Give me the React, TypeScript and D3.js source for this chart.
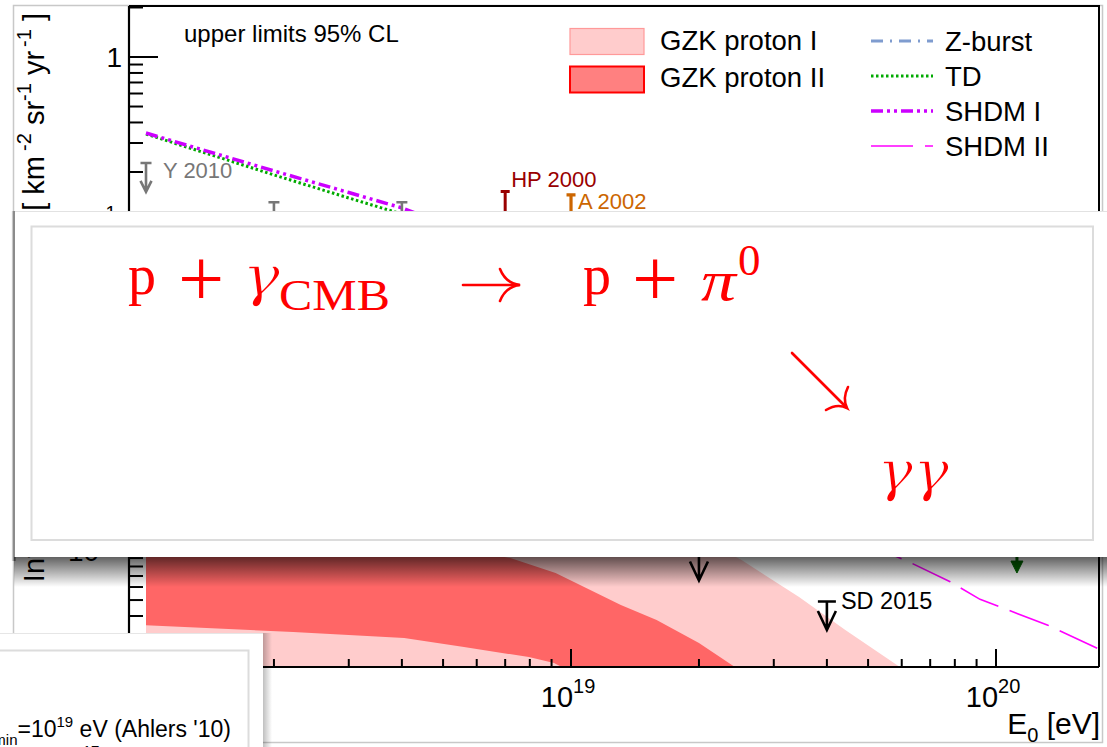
import React from "react";
import * as d3 from "d3";

const W = 1107;
const H = 747;

// axis domains: E0 [eV] and integral flux [km^-2 sr^-1 yr^-1]
const xDomain: [number, number] = [9.12e17, 1.747e20];
const yDomain: [number, number] = [1.959e-4, 2.042];

const xMajorExp = ["18", "19", "20"];
const xMajorTicks = [1e18, 1e19, 1e20];
const yMajorTicks = [1, 0.1, 0.01, 0.001];
const yMajorBase = ["1", "10", "10", "10"];
const yMajorExp = ["", "-1", "-2", "-3"];

// GZK proton I band
const gzkIUpperE = [1e18, 3.16e18, 1e19, 2e19, 2.52e19, 3.44e19, 4.42e19, 5.94e19, 7.94e19];
const gzkIUpperFlux = [6.3e-3, 4.0e-3, 2.24e-3, 1.2e-3, 8.75e-4, 5.21e-4, 3.29e-4, 1.96e-4, 1.17e-4];
const gzkILowerE = [1e18, 1e19, 7.94e19];
const gzkILowerFlux = [9e-5, 7e-5, 6e-5];

// GZK proton II band
const gzkIIUpperE = [1e18, 3.16e18, 7.2e18, 9.2e18, 1.31e19, 1.59e19, 2.0e19, 2.43e19, 2.82e19];
const gzkIIUpperFlux = [1.78e-3, 1.32e-3, 9.0e-4, 7.3e-4, 4.67e-4, 3.78e-4, 2.74e-4, 1.96e-4, 1.5e-4];
const gzkIILowerE = [1e18, 2.22e18, 4.05e18, 5.6e18, 7.96e18, 9.12e18, 1.12e19, 2.82e19];
const gzkIILowerFlux = [3.52e-4, 3.2e-4, 2.94e-4, 2.59e-4, 2.25e-4, 2.07e-4, 1.58e-4, 1.5e-4];

// model lines
const tdE = [1e18, 2e18, 3e18, 4e18, 1e19, 3e19, 1e20];
const tdFlux = [0.34, 0.192, 0.139, 0.111, 0.045, 0.012, 0.0035];
const shdmIE = [1e18, 2e18, 3e18, 4e18, 1e19, 3e19, 1e20];
const shdmIFlux = [0.345, 0.203, 0.15, 0.121, 0.05, 0.014, 0.004];
const zBurstE = [1e19, 3e19, 1e20];
const zBurstFlux = [0.07, 0.02, 0.005];
const shdmIIE = [1e19, 2e19, 4e19, 6.34e19, 7.8e19, 9.17e19, 1.32e20, 1.73e20];
const shdmIIFlux = [0.008, 0.0035, 0.0014, 8.36e-4, 6.46e-4, 5.05e-4, 3.53e-4, 2.55e-4];

// upper limits
const y2010E = [1e18, 2e18, 4e18];
const y2010Flux = [0.227, 0.131, 0.131];
const hp2000E = [7e18];
const hp2000Flux = [0.152];
const a2002E = [1e19];
const a2002Flux = [0.145];
const sd2015E = [1e19, 2e19, 4e19];
const sd2015Flux = [0.0021, 9.8e-4, 4.9e-4];
const greenE = [1.12e20];
const greenFlux = [1.08e-3];

const SANS = "'Liberation Sans', Arial, Helvetica, sans-serif";
const SERIF = "'Liberation Serif', 'Times New Roman', serif";
const MATH = "'DejaVu Serif', serif";

type P = [number, number];
const pts = (E: number[], F: number[]): P[] => E.map((e, i) => [e, F[i]] as P);

export default function App() {
  const x = d3.scaleLog().domain(xDomain).range([129, 1099]);
  const y = d3.scaleLog().domain(yDomain).range([667, 6]);
  const line = d3.line<P>().x((d) => x(d[0])).y((d) => y(d[1]));
  const band = (uE: number[], uF: number[], lE: number[], lF: number[]) =>
    line([...pts(uE, uF), ...pts(lE, lF).reverse()]) + "Z";

  const isMajor = (t: number) => Math.abs(Math.log10(t) - Math.round(Math.log10(t))) < 1e-6;
  const xTicks = x.ticks();
  const yTicks = y.ticks();

  const marker = (
    cx: number,
    cy: number,
    len: number,
    bar: number,
    head: number,
    half: number
  ) =>
    `M${cx - bar},${cy}H${cx + bar}M${cx},${cy}V${cy + len}M${cx - half},${cy + len - head}L${cx},${cy + len}L${cx + half},${cy + len - head}`;

  return (
    <svg
      width={W}
      height={H}
      viewBox={`0 0 ${W} ${H}`}
      style={{ position: "absolute", left: 0, top: 0, display: "block", background: "#fff" }}
    >
      <defs>
        <clipPath id="plotClip">
          <rect x={129} y={6} width={970} height={661} />
        </clipPath>
        <linearGradient id="botShade" x1="0" y1="0" x2="0" y2="1">
          <stop offset="0" stopColor="#000" stopOpacity={0.62} />
          <stop offset="0.35" stopColor="#000" stopOpacity={0.4} />
          <stop offset="1" stopColor="#000" stopOpacity={0} />
        </linearGradient>
        <linearGradient id="leftShade" x1="0" y1="0" x2="1" y2="0">
          <stop offset="0" stopColor="#000" stopOpacity={0.05} />
          <stop offset="1" stopColor="#000" stopOpacity={0.55} />
        </linearGradient>
        <linearGradient id="rightShade" x1="0" y1="0" x2="1" y2="0">
          <stop offset="0" stopColor="#000" stopOpacity={0.25} />
          <stop offset="1" stopColor="#000" stopOpacity={0} />
        </linearGradient>
      </defs>
      <rect x={0} y={0} width={W} height={H} fill="#fff" />
      {/* slide frame */}
      <rect x={13.5} y={5.5} width={1089} height={737} fill="none" stroke="#c8c8c8" strokeWidth={1.5} />

      {/* bands and lines */}
      <g clipPath="url(#plotClip)">
        <path d={band(gzkIUpperE, gzkIUpperFlux, gzkILowerE, gzkILowerFlux)} fill="#ffcccc" />
        <path d={band(gzkIIUpperE, gzkIIUpperFlux, gzkIILowerE, gzkIILowerFlux)} fill="#ff6666" />
        <path d={line(pts(zBurstE, zBurstFlux)) || ""} fill="none" stroke="#7f9ccf" strokeWidth={3} strokeDasharray="12,7,2,7" />
        <path d={line(pts(tdE, tdFlux)) || ""} fill="none" stroke="#00aa00" strokeWidth={3} strokeDasharray="2.5,2.5" />
        <path d={line(pts(shdmIE, shdmIFlux)) || ""} fill="none" stroke="#cc00ff" strokeWidth={3.5} strokeDasharray="12,4,3,4,3,4" />
        <path d={line(pts(shdmIIE, shdmIIFlux)) || ""} fill="none" stroke="#ff00ff" strokeWidth={1.6} strokeDasharray="42,12" />
      </g>

      {/* upper limit markers */}
      <g fill="none" strokeLinejoin="miter">
        {y2010E.map((e, i) => (
          <path key={"y" + i} d={marker(x(e), y(y2010Flux[i]), 29, 5.5, 11, 5.5)} stroke="#777" strokeWidth={2.6} />
        ))}
        {hp2000E.map((e, i) => (
          <path key={"h" + i} d={marker(x(e), y(hp2000Flux[i]), 30, 4.5, 10, 5)} stroke="#990000" strokeWidth={3} />
        ))}
        {a2002E.map((e, i) => (
          <path key={"a" + i} d={marker(x(e), y(a2002Flux[i]), 30, 4.5, 10, 5)} stroke="#cc6600" strokeWidth={3.2} />
        ))}
        {sd2015E.map((e, i) => (
          <path key={"s" + i} d={marker(x(e), y(sd2015Flux[i]), 28.5, 9, 19, 9)} stroke="#000" strokeWidth={2.6} />
        ))}
        {greenE.map((e, i) => {
          const cx = x(e);
          const cy = y(greenFlux[i]);
          return (
            <g key={"g" + i}>
              <path d={`M${cx - 5},${cy}H${cx + 5}M${cx},${cy}V${cy + 20}`} stroke="#006600" strokeWidth={3} />
              <path d={`M${cx - 6},${cy + 16}L${cx},${cy + 28}L${cx + 6},${cy + 16}Z`} fill="#006600" stroke="#006600" strokeWidth={1} />
            </g>
          );
        })}
      </g>

      <g fontFamily={SANS}>
        <text x={x(1e18) + 17} y={y(y2010Flux[0]) + 15} fontSize={22} fill="#777">Y 2010</text>
        <text x={x(hp2000E[0]) + 6} y={y(hp2000Flux[0]) - 5} fontSize={22} fill="#990000">HP 2000</text>
        <text x={x(a2002E[0]) + 7} y={y(a2002Flux[0]) + 14.5} fontSize={22} fill="#cc6600">A 2002</text>
        <text x={x(sd2015E[2]) + 14} y={y(sd2015Flux[2]) + 7.5} fontSize={23.5} fill="#000">SD 2015</text>
        <text x={184} y={42} fontSize={24} fill="#000">upper limits 95% CL</text>
      </g>

      {/* axes */}
      <g stroke="#000" fill="none">
        <path d="M129,6H1099V667" strokeWidth={2} />
        <path d="M129,6V667H1099" strokeWidth={2.2} />
        {xTicks.map((t, i) => (
          <line key={"xt" + i} x1={x(t)} x2={x(t)} y1={667} y2={667 - (isMajor(t) ? 18 : 8)} strokeWidth={2} />
        ))}
        {yTicks.map((t, i) => (
          <line key={"yt" + i} x1={129} x2={129 + (isMajor(t) ? 29 : 14)} y1={y(t)} y2={y(t)} strokeWidth={2} />
        ))}
      </g>
      <g fontFamily={SANS} fill="#000">
        {xMajorTicks.map((t, i) => (
          <text key={"xl" + i} x={x(t) - 3} y={707} fontSize={29} textAnchor="middle">
            10<tspan dy={-14} fontSize={20}>{xMajorExp[i]}</tspan>
          </text>
        ))}
        {yMajorTicks.map((t, i) => (
          <text key={"yl" + i} x={i === 0 ? 122 : 116} y={y(t) + 10} fontSize={28} textAnchor="end">
            {yMajorBase[i]}
            {yMajorExp[i] ? <tspan dy={-13} fontSize={19}>{yMajorExp[i]}</tspan> : null}
          </text>
        ))}
        <text x={1100} y={734} fontSize={30} textAnchor="end">
          E<tspan dy={8} fontSize={20}>0</tspan>
          <tspan dy={-8}> [eV]</tspan>
        </text>
        <text transform="translate(44,13) rotate(-90)" fontSize={29} textAnchor="end">
          Integral photon flux for E&gt;E<tspan dy={7} fontSize={20}>0</tspan>
          <tspan dy={-7}> [ km</tspan>
          <tspan dy={-13} dx={5} fontSize={20}>-2</tspan>
          <tspan dy={13}> sr</tspan>
          <tspan dy={-13} fontSize={20}>-1</tspan>
          <tspan dy={13}> yr</tspan>
          <tspan dy={-13} dx={4} fontSize={20}>-1</tspan>
          <tspan dy={13}> ]</tspan>
        </text>
      </g>

      {/* legend */}
      <g fontFamily={SANS} fontSize={27.5} fill="#000">
        <rect x={570} y={28.5} width={74} height={26} fill="#ffcccc" stroke="#ff9999" strokeWidth={1.2} />
        <rect x={570} y={66.5} width={74} height={26} fill="#ff8080" stroke="#ff0000" strokeWidth={2} />
        <text x={660} y={49.5}>GZK proton I</text>
        <text x={660} y={86.5}>GZK proton II</text>
        <line x1={871} x2={933} y1={41} y2={41} stroke="#7f9ccf" strokeWidth={3} strokeDasharray="12,7,2,7" />
        <line x1={871} x2={933} y1={76} y2={76} stroke="#00aa00" strokeWidth={3} strokeDasharray="2.5,2.5" />
        <line x1={871} x2={933} y1={111} y2={111} stroke="#cc00ff" strokeWidth={3.5} strokeDasharray="12,4,3,4,3,4" />
        <line x1={871} x2={933} y1={146} y2={146} stroke="#ff00ff" strokeWidth={1.6} strokeDasharray="42,12" />
        <text x={945} y={50.5}>Z-burst</text>
        <text x={945} y={85.5}>TD</text>
        <text x={945} y={120.5}>SHDM I</text>
        <text x={945} y={155.5}>SHDM II</text>
      </g>

      {/* overlay box with the reaction */}
      <rect x={14} y={557} width={1100} height={30} fill="url(#botShade)" />
      <rect x={11.5} y={211} width={4} height={350} fill="url(#leftShade)" />
      <rect x={15} y={211} width={1100} height={346} fill="#fff" />
      <line x1={15} x2={1107} y1={211.5} y2={211.5} stroke="#e2e2e2" strokeWidth={1} />
      <rect x={31.5} y={226.5} width={1061.5} height={313.5} fill="none" stroke="#dcdcdc" strokeWidth={2} />
      <g fill="#ff0000" fontFamily={SERIF}>
        <text x={128} y={294} fontSize={56}>p</text>
        <text x={178} y={306} fontSize={82}>+</text>
        <text x={242} y={295} fontSize={56} fontFamily={MATH} fontStyle="italic" textLength={38} lengthAdjust="spacingAndGlyphs" stroke="#fff" strokeWidth={1.4}>γ</text>
        <text x={279} y={310} fontSize={45} textLength={111} lengthAdjust="spacingAndGlyphs">CMB</text>
        <text x={583} y={294} fontSize={56}>p</text>
        <text x={632} y={306} fontSize={82}>+</text>
        <text x={701} y={300} fontSize={58} fontStyle="italic" textLength={35} lengthAdjust="spacingAndGlyphs">π</text>
        <text x={738} y={275} fontSize={45}>0</text>
        <text x={877} y={490} fontSize={56} fontFamily={MATH} fontStyle="italic" textLength={72} lengthAdjust="spacingAndGlyphs" stroke="#fff" strokeWidth={1.4}>γγ</text>
      </g>
      <g fill="none" stroke="#ff0000" strokeWidth={2.6} strokeLinecap="round">
        <path d="M463,285H519" />
        <path d="M500,269C504,279 511,284 520,285C511,286 504,291 500,301" />
        <path d="M792,353L846,407" />
        <path d="M826,410C834,405 841,405 847,408C844,402 844,395 848,387" />
      </g>

      {/* lower-left box */}
      <rect x={263} y={633} width={9} height={120} fill="url(#rightShade)" />
      <rect x={-5} y={633} width={268} height={120} fill="#fff" />
      <line x1={0} x2={263} y1={633.5} y2={633.5} stroke="#e6e6e6" strokeWidth={1} />
      <rect x={-5} y={650.5} width={253.5} height={120} fill="none" stroke="#dcdcdc" strokeWidth={2} />
      <g fontFamily={SANS} fill="#000">
        <text x={-22} y={737} fontSize={23}>
          E<tspan dy={8} fontSize={15}>min</tspan>
          <tspan dy={-8}>=10</tspan>
          <tspan dy={-10} fontSize={15}>19</tspan>
          <tspan dy={10}> eV (Ahlers '10)</tspan>
        </text>
        <text x={-22} y={768} fontSize={23}>
          E<tspan dy={8} fontSize={15}>min</tspan>
          <tspan dy={-8}>=2×10</tspan>
          <tspan dy={-12} fontSize={15}>17</tspan>
          <tspan dy={12}> eV</tspan>
        </text>
      </g>
    </svg>
  );
}
